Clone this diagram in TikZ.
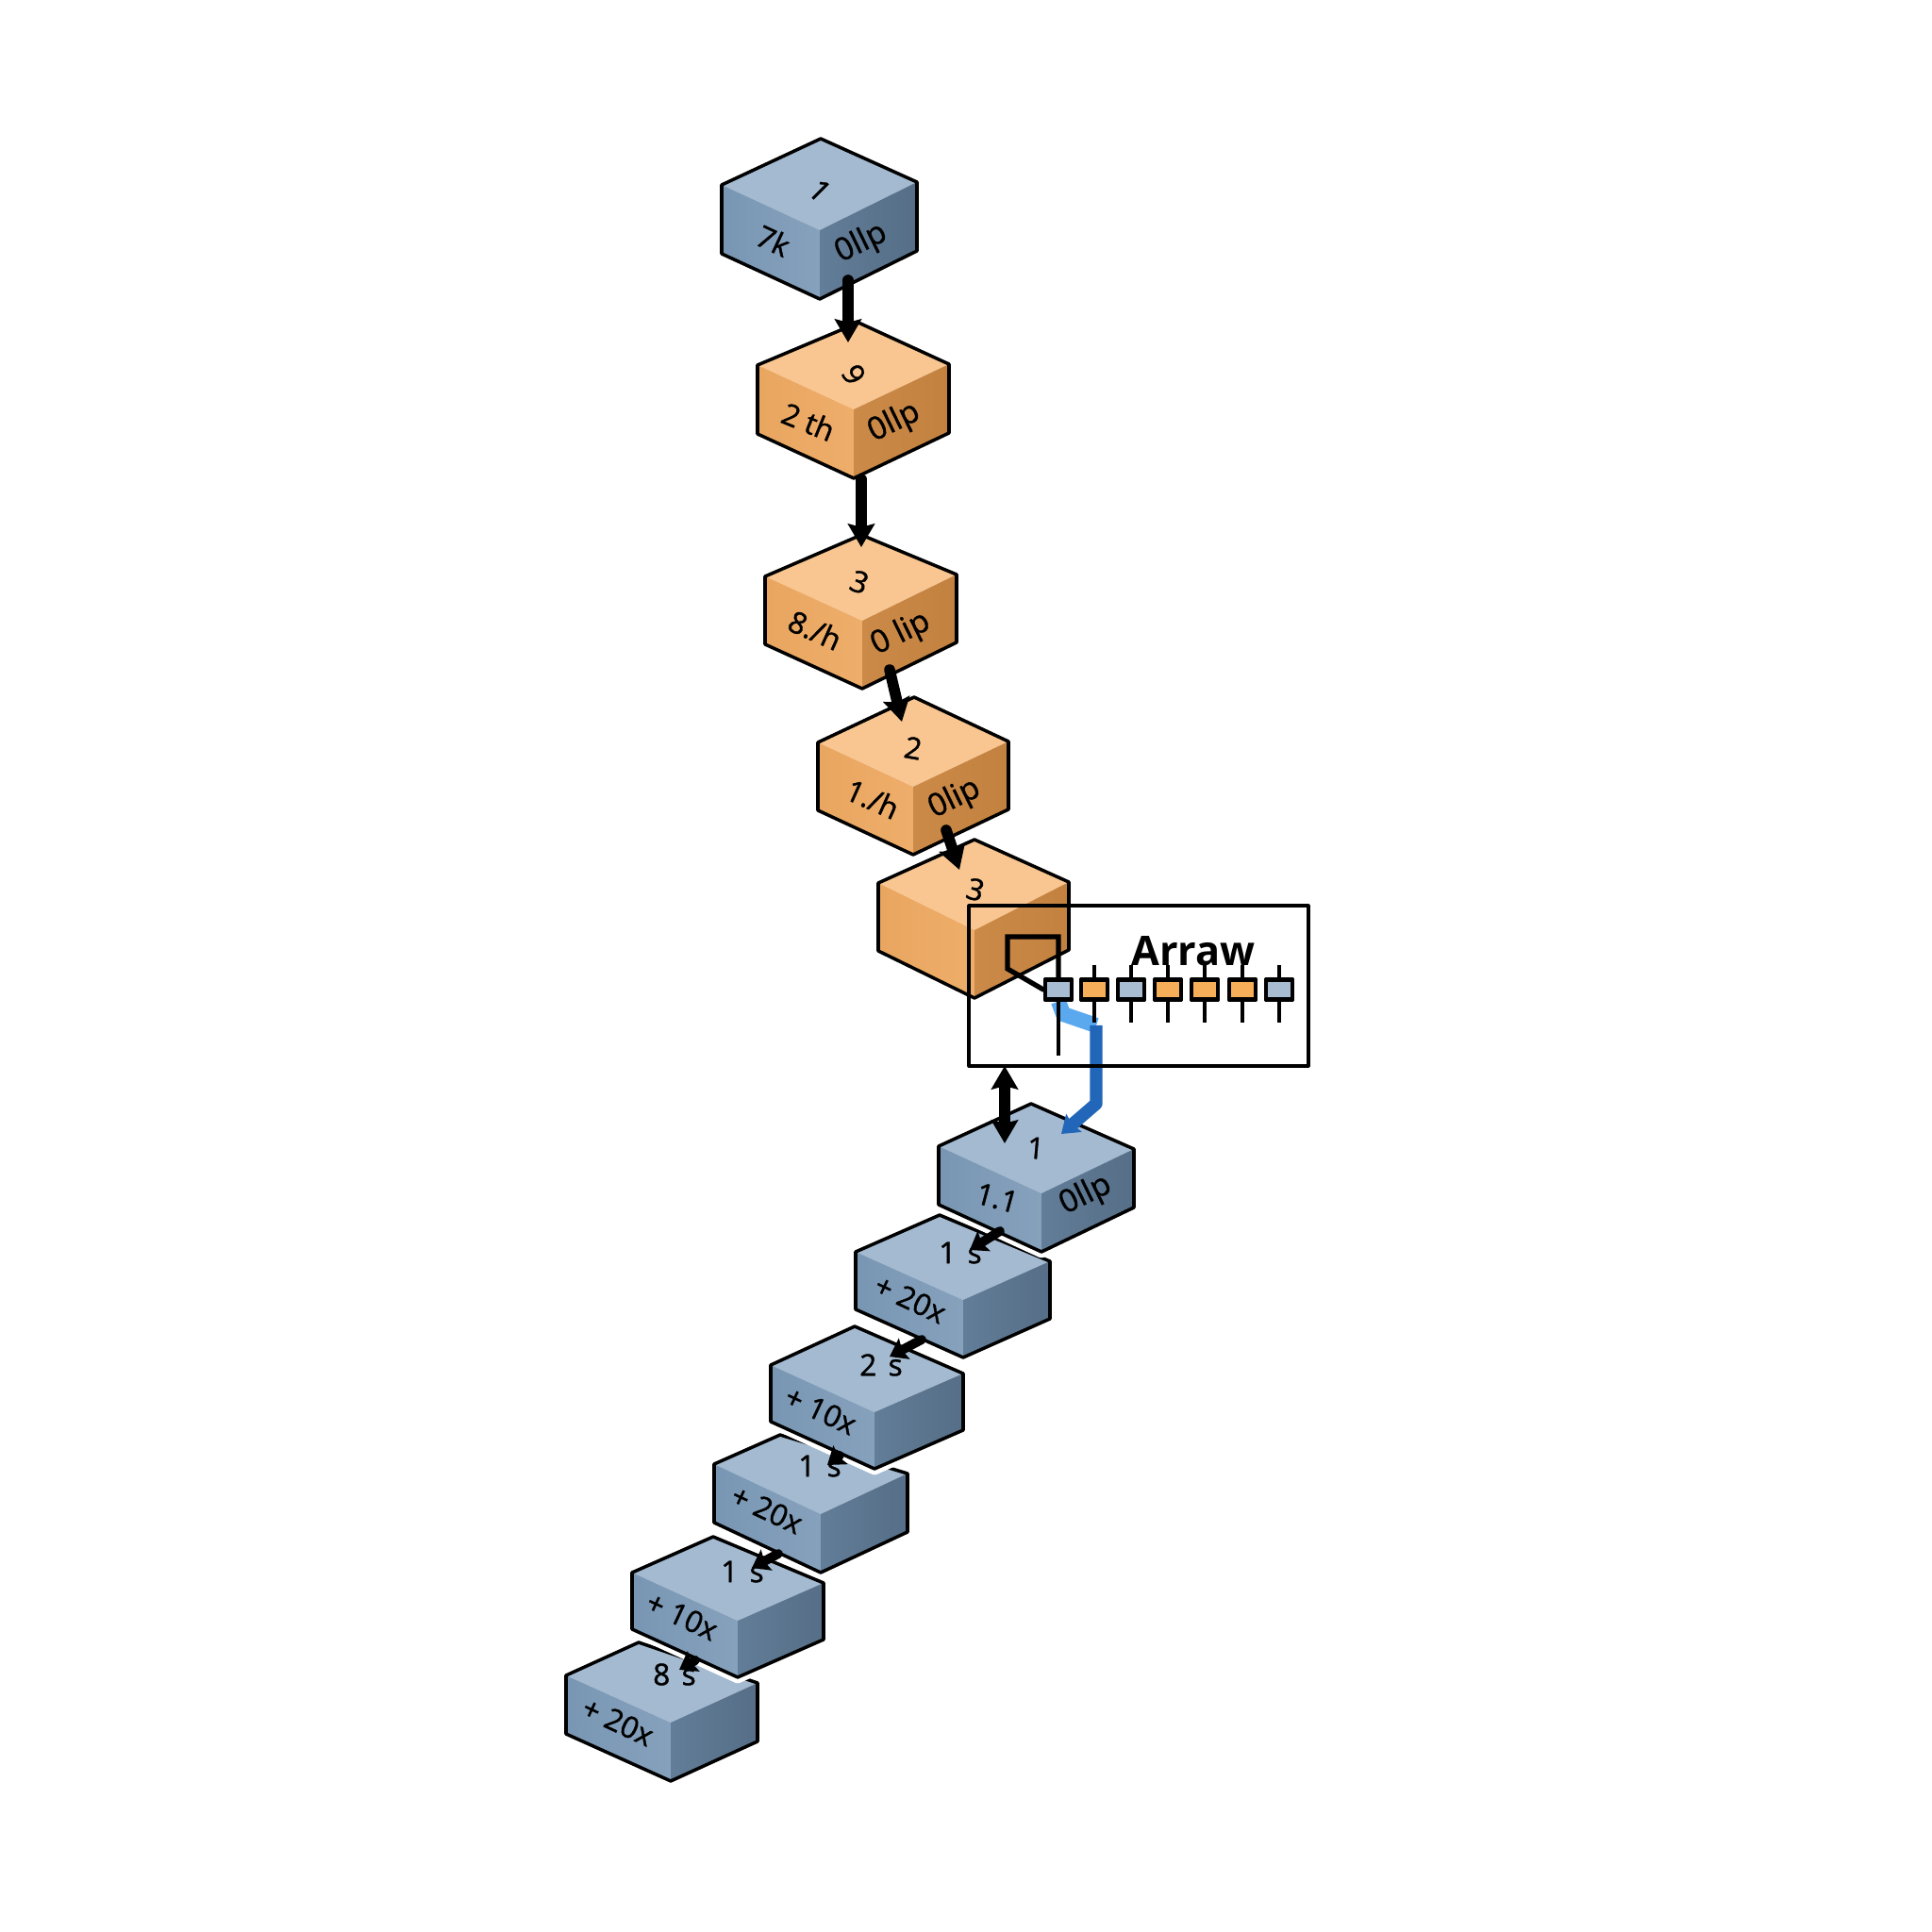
\documentclass[tikz,border=0pt]{standalone}
\usepackage{xcolor}
\usepackage{fontspec}
\setsansfont{Open Sans}
\newfontfamily\facefont{Open Sans}[RawFeature={embolden=1.2}]
\usepackage{tikz}
\usetikzlibrary{arrows.meta,calc,positioning}
\definecolor{steeltop}{RGB}{164,186,209}
\definecolor{steelleftA}{RGB}{120,150,179}
\definecolor{steelleftB}{RGB}{134,161,188}
\definecolor{steelrightA}{RGB}{98,125,152}
\definecolor{steelrightB}{RGB}{86,110,135}
\definecolor{ambertop}{RGB}{249,198,145}
\definecolor{amberleftA}{RGB}{232,166,96}
\definecolor{amberleftB}{RGB}{238,173,106}
\definecolor{amberrightA}{RGB}{204,138,72}
\definecolor{amberrightB}{RGB}{194,129,63}
\definecolor{cellsteel}{RGB}{169,189,210}
\definecolor{cellamber}{RGB}{246,174,88}
\definecolor{linkpale}{RGB}{90,169,238}
\definecolor{linkblue}{RGB}{33,102,184}
\tikzset{
  boxedge/.style={black, line width=1pt},
  toplabel/.style={font=\fontsize{9}{10}\selectfont\facefont, inner sep=0pt},
  leftlabel/.style={font=\fontsize{9}{10}\selectfont\facefont, inner sep=0pt},
  rightlabel/.style={font=\fontsize{9.5}{10}\selectfont\facefont, inner sep=0pt},
  heavyflow/.style={black, line width=3.3pt, -{Stealth[length=7pt,width=8pt,inset=1pt]}},
  lightflow/.style={black, line width=2.8pt, -{Stealth[length=5pt,width=7pt,inset=0.8pt]}},
  cellbox/.style={draw=black, line width=1.15pt, minimum width=0.28cm, minimum height=0.21cm, inner sep=0pt},
  stemline/.style={black, line width=1.15pt, line cap=butt}
}

\begin{document}
\begin{tikzpicture}[>=Stealth, line cap=round, line join=round]
  \path[use as bounding box] (0,0) rectangle (20.48,20.48);

  % Boxes, lowest first so that each one lies over the next
  \foreach \name/\fam/\cx/\cy/\lx/\ly/\rx/\ry/\ax/\ay/\d in {
    b11/steel/7.11/2.22/6.00/2.72/8.03/2.64/6.77/3.07/0.62,
    b10/steel/7.82/3.30/6.70/3.81/8.73/3.70/7.56/4.19/0.60,
    b9/steel/8.70/4.43/7.57/4.96/9.62/4.86/8.27/5.27/0.62,
    b8/steel/9.27/5.51/8.17/6.01/10.21/5.92/9.06/6.42/0.60,
    b7/steel/10.21/6.70/9.07/7.21/11.13/7.11/9.96/7.60/0.61,
    b6/steel/11.04/7.83/9.95/8.33/12.02/8.30/10.93/8.78/0.62,
    b5/amber/10.33/10.62/9.31/11.12/11.33/11.13/10.33/11.58/0.72,
    b4/amber/9.68/12.14/8.67/12.61/10.69/12.62/9.69/13.09/0.72,
    b3/amber/9.14/13.90/8.11/14.37/10.14/14.39/9.13/14.81/0.72,
    b2/amber/9.05/16.14/8.03/16.61/10.06/16.62/9.10/17.06/0.73,
    b1/steel/8.69/18.04/7.65/18.52/9.72/18.55/8.70/19.01/0.73} {
    \coordinate (\name c) at (\cx,\cy);
    \coordinate (\name l) at (\lx,\ly);
    \coordinate (\name r) at (\rx,\ry);
    \coordinate (\name a) at (\ax,\ay);
    \coordinate (\name cb) at ($(\name c)+(0,-\d)$);
    \coordinate (\name lb) at ($(\name l)+(0,-\d)$);
    \coordinate (\name rb) at ($(\name r)+(0,-\d)$);
    \draw[white, line width=3.6pt] (\name a) -- (\name r) -- (\name rb) -- (\name cb) -- (\name lb) -- (\name l) -- cycle;
    \fill[\fam top] (\name a) -- (\name r) -- (\name c) -- (\name l) -- cycle;
    \shade[left color=\fam leftA, right color=\fam leftB] (\name l) -- (\name c) -- (\name cb) -- (\name lb) -- cycle;
    \shade[left color=\fam rightA, right color=\fam rightB] (\name c) -- (\name r) -- (\name rb) -- (\name cb) -- cycle;
    \draw[boxedge] (\name a) -- (\name r) -- (\name rb) -- (\name cb) -- (\name lb) -- (\name l) -- cycle;
  }

  % Top face labels
  \foreach \name/\x/\y/\rot/\txt in {
    t1/8.69/18.46/-45/{1}, t2/9.05/16.51/-60/{9}, t3/9.11/14.31/-20/{3},
    t4/9.68/12.55/-10/{2}, t5/10.34/11.05/-15/{3}, t6/10.98/8.31/-5/{1},
    t7/10.18/7.20/0/{1\hspace{3.5pt}s}, t8/9.34/6.01/0/{2\hspace{3.5pt}s}, t9/8.69/4.94/0/{1\hspace{3.5pt}s},
    t10/7.87/3.82/0/{1\hspace{3.5pt}s}, t11/7.15/2.73/0/{8\hspace{3.5pt}s}} {
    \node[toplabel, rotate=\rot] (\name) at (\x,\y) {\txt};
  }

  % Left face labels
  \foreach \name/\x/\y/\rot/\txt in {
    l1/8.20/17.93/-25/{7k}, l2/8.57/16.01/-22/{2 th}, l3/8.64/13.80/-24/{8./h},
    l4/9.25/12.01/-24/{1./h}, l6/10.57/7.78/-15/{1.1}, l7/9.65/6.71/-25/{+ 20x},
    l8/8.70/5.53/-25/{+ 10x}, l9/8.13/4.48/-25/{+ 20x}, l10/7.23/3.35/-25/{+ 10x},
    l11/6.55/2.23/-25/{+ 20x}} {
    \node[leftlabel, rotate=\rot] (\name) at (\x,\y) {\txt};
  }

  % Right face labels
  \foreach \name/\x/\y/\txt in {
    r1/9.13/17.90/{0llp}, r2/9.48/16.00/{0llp}, r3/9.55/13.76/{0 lip},
    r4/10.12/12.01/{0lip}, r6/11.51/7.81/{0llp}} {
    \node[rightlabel, rotate=26] (\name) at (\x,\y) {\txt};
  }

  % Array cells
  \foreach \name/\x/\fam in {c1/11.22/steel,c2/11.60/amber,c3/11.99/steel,c4/12.38/amber,c5/12.77/amber,c6/13.17/amber,c7/13.56/steel} {
    \node[cellbox, fill=cell\fam] (\name) at (\x,9.99) {};
  }

  % Link from the first cell down to box 6
  \coordinate (bendA) at (11.27,9.73);
  \coordinate (bendB) at (11.62,9.61);
  \coordinate (bendC) at (11.62,8.78);
  \coordinate (i6b) at (11.25,8.46);
  \draw[linkpale, line width=4.6pt, line cap=butt] (c1.south) -- (bendA) -- (bendB);
  \draw[linkblue, line width=3.8pt, line cap=butt, -{Stealth[length=5pt,width=7pt,inset=0.6pt]}] (bendB) -- (bendC) -- (i6b);

  % Array frame and title
  \node[draw=black, line width=0.9pt, minimum width=3.6cm, minimum height=1.7cm, inner sep=0pt] (array) at (12.07,10.03) {};
  \node[font=\fontsize{12.3}{15}\selectfont\sffamily\bfseries, anchor=base, inner sep=0pt] (arraytitle) at (12.65,10.24) {Arraw};

  % Cell stems
  \foreach \name in {c2,c3,c4,c5,c6,c7} {
    \draw[stemline] ($(\name.north)+(0,0.13)$) -- (\name.north);
    \draw[stemline] (\name.south) -- ($(\name.south)+(0,-0.22)$);
  }

  % Bracket on the first cell
  \coordinate (brA) at (10.68,10.21);
  \coordinate (brB) at (10.68,10.55);
  \coordinate (brC) at (11.22,10.55);
  \coordinate (stemend) at (11.22,9.29);
  \draw[black, line width=1.5pt, line join=miter] (c1.west) -- (brA) -- (brB) -- (brC) -- (c1.north);
  \draw[stemline] (c1.south) -- (stemend);
  % redraw the cells over the stems
  \foreach \name/\fam in {c1/steel,c2/amber,c3/steel,c4/amber,c5/amber,c6/amber,c7/steel} {
    \node[cellbox, fill=cell\fam] at (\name) {};
  }

  % Arrow ends
  \foreach \name/\x/\y in {
    o1/8.99/17.51, i2/8.99/16.85, o2/9.13/15.40, i3/9.13/14.68, o3/9.43/13.38, i4/9.56/12.83,
    o4/10.03/11.68, i5/10.17/11.26, o5/10.65/9.18, i6/10.65/8.36, o6/10.60/7.43, i7/10.28/7.23,
    o7/9.77/6.28, i8/9.43/6.10, o8/8.90/5.05, i9/8.77/4.95, o9/8.25/4.01, i10/7.97/3.86,
    o10/7.37/2.88, i11/7.20/2.78} {
    \coordinate (\name) at (\x,\y);
  }

  % Arrows between boxes
  \foreach \a/\b in {o1/i2,o2/i3,o3/i4,o4/i5} {
    \draw[heavyflow] (\a) -- (\b);
  }
  \draw[heavyflow, {Stealth[length=7pt,width=8pt,inset=1pt]}-{Stealth[length=7pt,width=8pt,inset=1pt]}] (o5) -- (i6);
  \foreach \a/\b in {o6/i7,o7/i8,o8/i9,o9/i10,o10/i11} {
    \draw[lightflow] (\a) -- (\b);
  }

\end{tikzpicture}
\end{document}
